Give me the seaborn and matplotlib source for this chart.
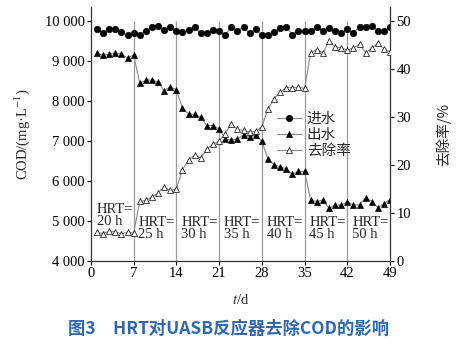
import matplotlib
matplotlib.use("Agg")
import matplotlib.pyplot as plt
import seaborn as sns
import pandas as pd
from matplotlib.lines import Line2D
from matplotlib.ticker import FuncFormatter

# ---- data ----
days = list(range(1, 50))
influent = [9785, 9700, 9785, 9800, 9720, 9635, 9700,
            9635, 9750, 9835, 9867, 9767, 9835, 9750,
            9717, 9767, 9850, 9685, 9685, 9767, 9735,
            9650, 9850, 9750, 9850, 9685, 9785, 9650,
            9635, 9717, 9817, 9850, 9650, 9750, 9735,
            9735, 9835, 9750, 9817, 9750, 9685, 9785,
            9700, 9850, 9850, 9867, 9750, 9735, 9850]
effluent = [9185, 9135, 9168, 9200, 9168, 9068, 9150,
            8435, 8518, 8518, 8468, 8250, 8350, 8268,
            7818, 7668, 7668, 7585, 7380, 7380, 7300,
            7050, 7018, 7050, 7150, 7100, 7135, 6985,
            6550, 6400, 6350, 6300, 6165, 6235, 6240,
            5518, 5485, 5518, 5318, 5400, 5400, 5468,
            5400, 5400, 5585, 5485, 5335, 5435, 5535]
removal = [6.0, 5.7, 6.2, 6.1, 5.6, 6.0, 5.8,
           12.4, 12.6, 13.3, 14.2, 15.4, 14.7, 15.0,
           19.0, 21.0, 22.1, 21.4, 23.3, 24.3, 24.9,
           26.5, 28.6, 27.4, 27.2, 26.8, 27.0, 27.9,
           31.7, 33.7, 35.1, 36.1, 36.1, 36.2, 35.9,
           43.3, 44.0, 43.3, 45.7, 44.6, 44.3, 43.9,
           44.3, 45.1, 43.3, 44.3, 45.3, 44.2, 43.5]
hrt_labels = ["HRT=\n20 h", "HRT=\n25 h", "HRT=\n30 h", "HRT=\n35 h",
              "HRT=\n40 h", "HRT=\n45 h", "HRT=\n50 h"]
phase_bounds = [7, 14, 21, 28, 35, 42]
x_ticks = [0, 7, 14, 21, 28, 35, 42, 49]
legend_labels = ["进水", "出水", "去除率"]

df = pd.DataFrame({"day": days, "influent": influent,
                   "effluent": effluent, "removal": removal})

sns.set_style("ticks")
plt.rcParams["font.family"] = ["Liberation Serif", "Noto Sans CJK SC"]
plt.rcParams["mathtext.fontset"] = "stix"

fig = plt.figure(figsize=(4.66, 3.45), dpi=100)
ax = fig.add_axes([0.195, 0.2435, 0.642, 0.7362])
ax2 = ax.twinx()

line_kw = dict(color="#8a8a8a", linewidth=0.8, markeredgecolor="black",
               markeredgewidth=0.5)
ms_fill = 4.6
ms_open = 5.0

# phase boundaries
ax.vlines(phase_bounds, 4000, 10000, colors="#9a9a9a", linewidth=0.9, zorder=1)

sns.lineplot(data=df, x="day", y="influent", ax=ax, marker="o",
             markersize=ms_fill, markerfacecolor="black", zorder=3, **line_kw)
sns.lineplot(data=df, x="day", y="effluent", ax=ax, marker="^",
             markersize=ms_fill, markerfacecolor="black", zorder=3, **line_kw)
sns.lineplot(data=df, x="day", y="removal", ax=ax2, marker="^",
             markersize=ms_open, markerfacecolor="white", zorder=3, **line_kw)

ax.set_xlim(0, 49)
ax.set_ylim(4000, 10342)
ax2.set_ylim(0, 52.85)
ax.set_xticks(x_ticks)
ax.set_yticks(range(4000, 10001, 1000))
ax2.set_yticks(range(0, 51, 10))
ax.yaxis.set_major_formatter(FuncFormatter(lambda v, p: f"{int(v):,}".replace(",", " ")))

for a in (ax, ax2):
    a.tick_params(labelsize=10.5, length=3, width=0.8, pad=1.5, colors="black")
    for s in a.spines.values():
        s.set_linewidth(0.9)
        s.set_color("#333333")
    a.spines["top"].set_visible(False)
ax.spines["right"].set_visible(False)
ax2.spines["left"].set_visible(False)
ax2.spines["bottom"].set_visible(False)

ax.set_xlabel(r"$t$/d", fontsize=10.5, labelpad=9)
ax.set_ylabel("COD/(mg·L$^{-1}$)", fontsize=10.5, labelpad=9)
ax2.set_ylabel("去除率/%", fontsize=10.5, rotation=90, labelpad=18,
               family=["Noto Sans CJK SC"])

# HRT phase annotations
ax.text(1.0, 5130, hrt_labels[0], fontsize=10.5, ha="left", va="center",
        linespacing=0.95)
for i, lab in enumerate(hrt_labels[1:]):
    ax.text(phase_bounds[i] + 0.8, 4810, lab, fontsize=10.5, ha="left",
            va="center", linespacing=0.95)

handles = [
    Line2D([], [], marker="o", markersize=ms_fill, markerfacecolor="black", **line_kw),
    Line2D([], [], marker="^", markersize=ms_fill, markerfacecolor="black", **line_kw),
    Line2D([], [], marker="^", markersize=ms_open, markerfacecolor="white", **line_kw),
]
ax2.legend(handles, legend_labels, loc="upper left",
           bbox_to_anchor=(277 / 466, 1 - 112 / 345), bbox_transform=fig.transFigure,
           frameon=False, handlelength=1.7, handletextpad=0.35,
           labelspacing=0.15, borderpad=0, borderaxespad=0,
           prop={"family": ["Noto Sans CJK SC"], "size": 10.5})

fig.text(229 / 466, 1 - 329 / 345, "图3\u2003HRT对UASB反应器去除COD的影响",
         ha="center", va="center", fontsize=12.5, color="#2f68b0",
         family=["Noto Sans CJK SC"], fontweight="bold")

fig.savefig("out.png", dpi=100)
